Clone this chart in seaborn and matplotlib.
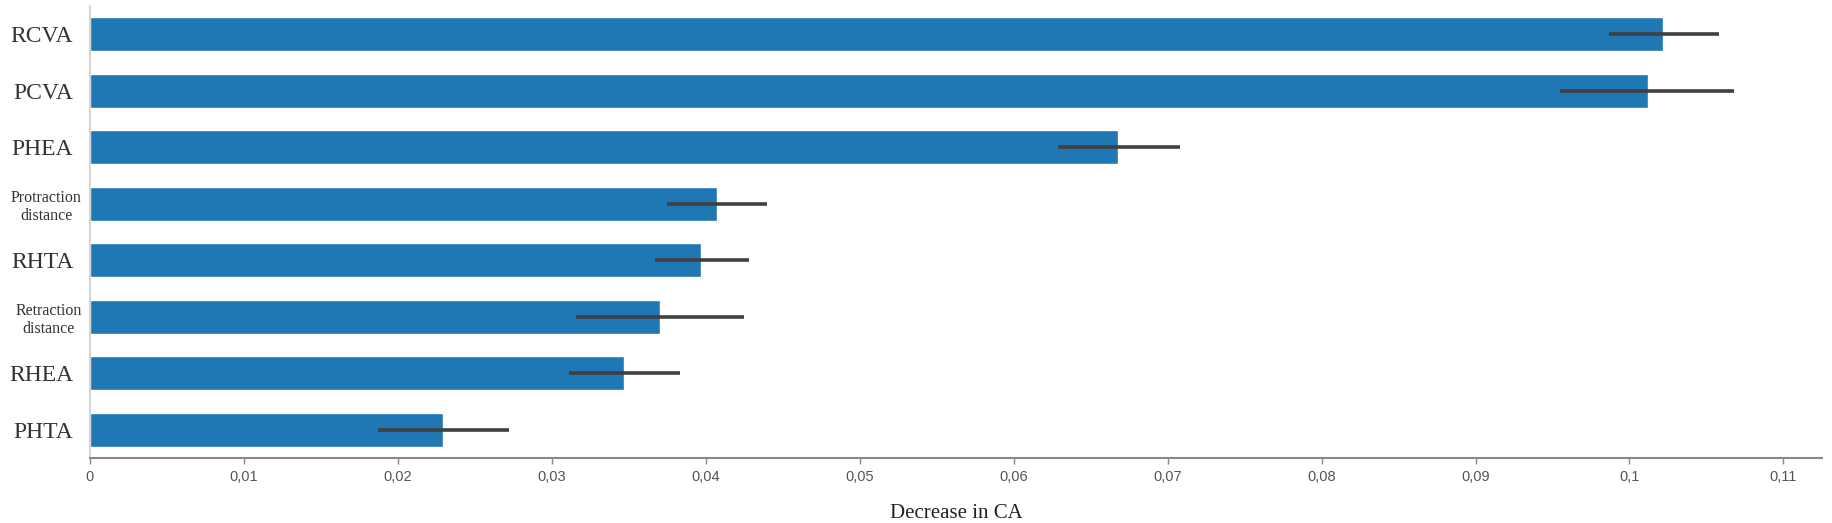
import numpy as np
import pandas as pd
import matplotlib
matplotlib.use("Agg")
import matplotlib.pyplot as plt
import matplotlib.transforms as mtransforms
import seaborn as sns

categories = ["RCVA", "PCVA", "PHEA", "Protraction\ndistance", "RHTA",
              "Retraction\ndistance", "RHEA", "PHTA"]
values = [0.1022, 0.1012, 0.0668, 0.0407, 0.0397, 0.0370, 0.0347, 0.0229]
err_low = [0.0987, 0.0955, 0.0629, 0.0375, 0.0367, 0.0316, 0.0311, 0.0187]
err_high = [0.1058, 0.1068, 0.0708, 0.0440, 0.0428, 0.0425, 0.0383, 0.0272]
xticks = [0, 0.01, 0.02, 0.03, 0.04, 0.05, 0.06, 0.07, 0.08, 0.09, 0.1, 0.11]
xticklabels = ["0", "0,01", "0,02", "0,03", "0,04", "0,05", "0,06", "0,07",
               "0,08", "0,09", "0,1", "0,11"]
xlabel = "Decrease in CA"

sns.set_theme(style="white")
plt.rcParams["font.family"] = ["Liberation Serif", "DejaVu Serif"]

df = pd.DataFrame({"feature": categories, "value": values})

fig = plt.figure(figsize=(18.32, 5.23), dpi=100)
ax = fig.add_axes([0.0491, 0.1243, 0.9454, 0.8647])

sns.barplot(data=df, x="value", y="feature", orient="h", color="#1f77b4",
            saturation=1, width=0.6, errorbar=None, ax=ax)

pos = np.arange(len(categories))
vals = np.array(values)
ax.errorbar(vals, pos,
            xerr=[vals - np.array(err_low), np.array(err_high) - vals],
            fmt="none", ecolor="#404040", elinewidth=2.6, capsize=0, zorder=3)

ax.set_xlim(0, 0.1125)
ax.set_ylim(7.5, -0.5)
ax.set_xticks(xticks)
ax.set_xticklabels(xticklabels, family=["Liberation Sans Narrow", "Liberation Sans"],
                   fontsize=10.5, color="#555555")
ax.tick_params(axis="x", bottom=True, length=4, width=1, color="#888888", pad=5)
ax.tick_params(axis="y", left=False, length=0, pad=12)

shift = mtransforms.ScaledTranslation(6 / 72, 0, fig.dpi_scale_trans)
for lab in ax.get_yticklabels():
    t = lab.get_text()
    if "\n" in t:
        lab.set_fontsize(11.5)
        lab.set_multialignment("center")
        lab.set_linespacing(1.2)
        lab.set_transform(lab.get_transform() + shift)
    else:
        lab.set_fontsize(17)
    lab.set_color("#333333")

ax.set_ylabel("")
ax.set_xlabel(xlabel, fontsize=15, color="#222222", labelpad=14)

for s in ["top", "right"]:
    ax.spines[s].set_visible(False)
ax.spines["bottom"].set_color("#888888")
ax.spines["bottom"].set_linewidth(1.5)
ax.spines["left"].set_color("#cccccc")
ax.spines["left"].set_linewidth(1.2)

fig.savefig("out.png", dpi=100)
